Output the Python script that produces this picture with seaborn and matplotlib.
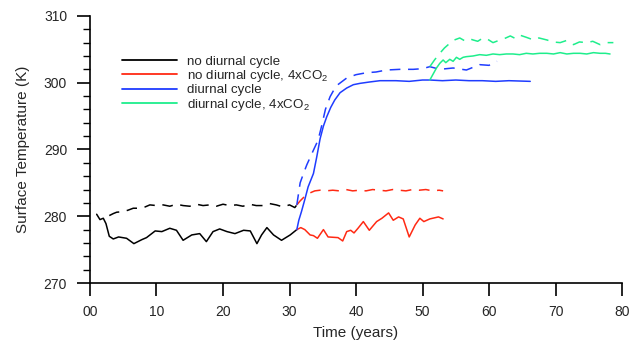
import numpy as np
import pandas as pd
import seaborn as sns
import matplotlib.pyplot as plt
from matplotlib.lines import Line2D
from matplotlib.ticker import MultipleLocator

# ---- data ----
nd_year = [1.0, 1.5, 2.0, 2.4, 2.9, 3.5, 4.3, 5.5, 6.6, 7.8, 8.5, 9.8, 10.8, 12.0, 13.0,
           14.0, 15.3, 16.5, 17.5, 18.5, 19.5, 20.6, 21.8, 23.1, 24.1, 25.1, 25.8, 26.6,
           27.6, 28.8, 30.1, 31.1]
nd_temp = [280.3, 279.5, 279.7, 278.9, 277.0, 276.6, 276.9, 276.7, 275.9, 276.5, 276.8, 277.8,
           277.7, 278.2, 277.9, 276.4, 277.2, 277.4, 276.2, 277.7, 278.1, 277.7, 277.4, 277.9,
           277.8, 275.9, 277.2, 278.3, 277.2, 276.4, 277.2, 278.0]

nd_dash_year = [2.9, 3.5, 4.0, 5.0, 5.7, 6.5, 7.3, 8.3, 9.0, 10.0, 11.0, 12.0, 13.0, 14.0, 15.0,
                16.0, 17.0, 18.0, 19.0, 20.0, 21.0, 22.0, 23.0, 24.0, 25.0, 26.0, 27.0, 28.0,
                29.0, 30.0, 30.8, 31.1]
nd_dash_temp = [280.1, 280.4, 280.6, 280.7, 280.9, 281.2, 281.2, 281.4, 281.7, 281.6, 281.7,
                281.5, 281.8, 281.6, 281.5, 281.8, 281.6, 281.7, 281.5, 281.8, 281.6, 281.7,
                281.5, 281.8, 281.6, 281.6, 281.9, 281.7, 281.4, 281.7, 281.3, 281.7]

ndc_year = [31.1, 31.7, 32.3, 33.1, 33.6, 34.2, 35.1, 35.8, 37.3, 38.0, 38.6, 39.2, 39.7, 40.3,
            41.1, 42.0, 43.1, 43.9, 44.9, 45.6, 46.4, 47.1, 48.0, 48.9, 49.6, 50.2, 51.1, 52.4,
            53.1]
ndc_temp = [278.0, 278.3, 278.0, 277.2, 277.1, 276.7, 278.0, 276.9, 276.8, 276.3, 277.7, 277.9,
            277.5, 278.2, 279.2, 277.9, 279.2, 279.7, 280.5, 279.4, 279.9, 279.6, 276.9, 278.7,
            279.7, 279.2, 279.6, 279.9, 279.6]

ndc_dash_year = [31.1, 31.6, 32.3, 33.1, 33.8, 34.6, 35.5, 36.5, 37.5, 38.5, 39.5, 40.5, 41.5,
                 42.5, 43.5, 44.5, 45.5, 46.5, 47.5, 48.5, 49.5, 50.5, 51.5, 52.5, 53.1]
ndc_dash_temp = [281.7, 282.3, 283.0, 283.5, 283.8, 283.9, 283.8, 283.9, 283.8, 284.0, 283.8,
                 283.9, 283.8, 284.0, 283.9, 283.8, 284.0, 283.9, 283.8, 284.0, 283.9, 284.0,
                 283.8, 283.9, 283.8]

dc_year = [31.1, 31.4, 31.8, 32.3, 32.8, 33.6, 34.1, 34.6, 35.1, 35.6, 36.2, 36.8, 37.6, 38.6,
           39.6, 40.6, 42.0, 43.6, 46.0, 48.0, 50.0, 51.1, 53.0, 55.0, 57.0, 59.0, 61.0, 63.0,
           66.2]
dc_temp = [278.0, 279.4, 280.7, 282.5, 284.4, 286.4, 288.9, 291.6, 293.5, 294.9, 296.3, 297.4,
           298.5, 299.2, 299.7, 299.9, 300.1, 300.3, 300.3, 300.2, 300.4, 300.4, 300.3, 300.4,
           300.3, 300.3, 300.2, 300.3, 300.2]

dc_dash_year = [31.1, 31.6, 32.1, 32.6, 33.1, 33.6, 34.3, 34.8, 35.4, 36.1, 37.0, 38.6, 40.0,
                41.6, 43.0, 44.6, 46.6, 48.6, 50.0, 51.1, 52.6, 54.6, 56.6, 58.6, 60.0, 61.2]
dc_dash_temp = [281.7, 285.0, 286.4, 287.7, 288.8, 289.9, 291.4, 293.4, 296.0, 297.9, 299.5,
                300.7, 301.2, 301.5, 301.6, 301.9, 302.0, 302.0, 302.1, 302.4, 302.0, 302.2,
                301.9, 302.7, 302.6, 303.2]

dcc_year = [51.1, 51.6, 52.1, 52.6, 53.1, 53.5, 54.1, 54.6, 55.1, 55.6, 56.1, 56.6, 57.6, 58.6,
            59.6, 60.6, 61.6, 62.6, 63.6, 64.6, 65.6, 66.6, 67.6, 68.7, 69.7, 70.7, 71.7, 72.7,
            73.7, 74.7, 75.7, 76.7, 77.5, 78.2]
dcc_temp = [300.4, 301.3, 302.2, 302.9, 303.4, 303.0, 303.5, 303.2, 303.8, 303.5, 303.8, 303.9,
            304.0, 304.2, 304.1, 304.3, 304.2, 304.3, 304.3, 304.2, 304.4, 304.3, 304.4, 304.4,
            304.3, 304.5, 304.3, 304.4, 304.4, 304.3, 304.5, 304.4, 304.4, 304.3]

dcc_dash_year = [51.1, 51.8, 52.6, 53.3, 54.1, 54.8, 55.6, 56.3, 57.0, 57.6, 58.3, 59.1, 59.8,
                 60.6, 61.4, 62.3, 63.2, 64.0, 64.7, 65.6, 66.7, 67.5, 68.7, 69.6, 70.7, 71.6,
                 72.7, 73.6, 74.7, 75.6, 76.7, 77.6, 78.7]
dcc_dash_temp = [302.4, 303.4, 304.4, 305.2, 305.9, 306.4, 306.7, 306.3, 306.6, 306.4, 306.2,
                 306.7, 306.5, 306.0, 306.3, 306.6, 307.0, 306.6, 307.1, 306.8, 306.4, 306.7,
                 306.4, 306.1, 306.0, 306.3, 305.7, 306.1, 306.0, 306.2, 305.7, 306.0, 306.0]

labels = ['no diurnal cycle', 'no diurnal cycle, 4xCO$_2$', 'diurnal cycle',
          'diurnal cycle, 4xCO$_2$']
colors = ['black', '#ff2a14', '#1f3cff', '#1eee8c']

x_ticks = [0, 10, 20, 30, 40, 50, 60, 70, 80]
x_tick_labels = ['00', '10', '20', '30', '40', '50', '60', '70', '80']
y_ticks = [270, 280, 290, 300, 310]

# ---- style ----
sns.set_style('ticks')
plt.rcParams['font.family'] = ['Liberation Sans', 'DejaVu Sans']
plt.rcParams['mathtext.default'] = 'regular'

fig = plt.figure(figsize=(6.32, 3.46), dpi=100)
ax = fig.add_axes([0.1424, 0.182, 0.8418, 0.772])

dash = (0, (7, 5))
series = [
    (nd_year, nd_temp, colors[0], '-'),
    (nd_dash_year, nd_dash_temp, colors[0], dash),
    (ndc_year, ndc_temp, colors[1], '-'),
    (ndc_dash_year, ndc_dash_temp, colors[1], dash),
    (dc_year, dc_temp, colors[2], '-'),
    (dc_dash_year, dc_dash_temp, colors[2], dash),
    (dcc_year, dcc_temp, colors[3], '-'),
    (dcc_dash_year, dcc_dash_temp, colors[3], dash),
]
for xs, ys, c, ls in series:
    sns.lineplot(x=xs, y=ys, color=c, linestyle=ls, linewidth=1.1, ax=ax,
                 sort=False, estimator=None)

ax.set_xlim(0, 80)
ax.set_ylim(270, 310)
ax.set_xticks(x_ticks, labels=x_tick_labels)
ax.set_yticks(y_ticks)
ax.yaxis.set_minor_locator(MultipleLocator(2))
ax.tick_params(axis='both', which='major', direction='out', length=9.5, width=1.2,
               labelsize=10, pad=6, color='black')
ax.tick_params(axis='y', which='minor', direction='out', length=5, width=1.0, color='black')
ax.tick_params(axis='y', which='major', pad=7)
for s in ['top', 'right']:
    ax.spines[s].set_visible(False)
for s in ['left', 'bottom']:
    ax.spines[s].set_linewidth(1.2)
    ax.spines[s].set_color('black')

ax.set_xlabel('Time (years)', fontsize=11, labelpad=5)
ax.set_ylabel('Surface Temperature (K)', fontsize=11, labelpad=10)

handles = [Line2D([], [], color=c, linewidth=1.3) for c in colors]
ax.legend(handles, labels, loc='upper left', bbox_to_anchor=(0.05, 0.873), frameon=False,
          fontsize=9.6, handlelength=4.1, handletextpad=0.75, labelspacing=0.02,
          borderaxespad=0)

fig.savefig('out.png', dpi=100)
